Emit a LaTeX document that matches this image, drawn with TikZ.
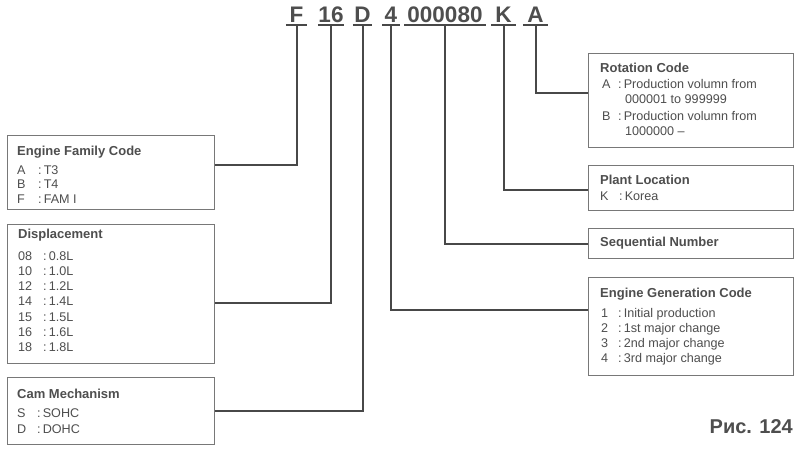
\documentclass[tikz,border=0pt]{standalone}
\usepackage{fontspec}
\setmainfont{Liberation Sans}
\definecolor{txt}{RGB}{78,78,78}
\definecolor{ln}{RGB}{72,72,72}
\definecolor{bx}{RGB}{120,120,120}
\begin{document}
\begin{tikzpicture}[x=1pt,y=-1pt,
  box/.style={draw=bx,line width=1.1pt,rectangle,anchor=north west,inner sep=0pt},
  conn/.style={draw=ln,line width=2pt},
  code/.style={anchor=base,inner sep=0pt,text=txt,font=\fontsize{22.5}{26}\bfseries\selectfont},
  ttl/.style={anchor=base west,inner sep=0pt,text=txt,font=\fontsize{13}{15}\bfseries\selectfont},
  t/.style={anchor=base west,inner sep=0pt,text=txt,font=\fontsize{12.6}{14}\selectfont}]
\useasboundingbox[fill=white] (0,0) rectangle (800,448);

% code characters
\node[code,minimum width=21pt] (cF) at (296.5,22) {F};
\node[code,minimum width=26pt] (c16) at (331,22) {16};
\node[code,minimum width=19pt] (cD) at (362.5,22) {D};
\node[code,minimum width=17pt] (c4) at (391,22) {4};
\node[code,minimum width=81pt] (cN) at (445,22) {000080};
\node[code,minimum width=24pt] (cK) at (503.5,22) {K};
\node[code,minimum width=25pt] (cA) at (535.5,22) {A};
\foreach \n in {cF,c16,cD,c4,cN,cK,cA}
  \draw[conn] ([yshift=-3pt]\n.base west) -- ([yshift=-3pt]\n.base east);

% boxes
\node[box,minimum width=207pt,minimum height=74pt] (fam) at (7,135) {};
\node[box,minimum width=207pt,minimum height=139pt] (disp) at (7,224) {};
\node[box,minimum width=207pt,minimum height=67pt] (cam) at (7,377) {};
\node[box,minimum width=205pt,minimum height=94pt] (rot) at (588,53) {};
\node[box,minimum width=205pt,minimum height=45pt] (plant) at (588,165) {};
\node[box,minimum width=205pt,minimum height=30pt] (seq) at (588,228) {};
\node[box,minimum width=205pt,minimum height=98pt] (gen) at (588,277) {};

% connectors
\draw[conn] ([yshift=-3pt]cF.base) |- (fam.east |- 0,165);
\draw[conn] ([yshift=-3pt]c16.base) |- (disp.east |- 0,303);
\draw[conn] ([yshift=-3pt]cD.base) |- (cam.east |- 0,411);
\draw[conn] ([yshift=-3pt]c4.base) |- (gen.west |- 0,310);
\draw[conn] ([yshift=-3pt]cN.base) |- (seq.west |- 0,244);
\draw[conn] ([yshift=-3pt]cK.base) |- (plant.west |- 0,190);
\draw[conn] ([yshift=-3pt]cA.base) |- (rot.west |- 0,93);

% Engine Family Code
\node[ttl] (famT) at (17,155) {Engine Family Code};
\node[t] (famA) at (17,174) {A}; \node[t] (famAc) at (38,174) {:\,T3};
\node[t] (famB) at (17,188.5) {B}; \node[t] (famBc) at (38,188.5) {:\,T4};
\node[t] (famF) at (17,203) {F}; \node[t] (famFc) at (38,203) {:\,FAM I};

% Displacement
\node[ttl] (dispT) at (18,238) {Displacement};
\foreach \k/\v [count=\i from 0] in {08/0.8L,10/1.0L,12/1.2L,14/1.4L,15/1.5L,16/1.6L,18/1.8L}{
  \node[t] (dk\i) at (18,260+15.3*\i) {\k};
  \node[t] (dv\i) at (43,260+15.3*\i) {:\,\v};
}

% Cam Mechanism
\node[ttl] (camT) at (17,398) {Cam Mechanism};
\node[t] (camS) at (17,417) {S}; \node[t] (camSc) at (37,417) {:\,SOHC};
\node[t] (camD) at (17,433) {D}; \node[t] (camDc) at (37,433) {:\,DOHC};

% Rotation Code
\node[ttl] (rotT) at (600,72) {Rotation Code};
\node[t] (rotA) at (602,88) {A}; \node[t] (rotAc) at (618,88) {:\,Production volumn from};
\node[t] (rotA2) at (625,103.5) {000001 to 999999};
\node[t] (rotB) at (602,120) {B}; \node[t] (rotBc) at (618,120) {:\,Production volumn from};
\node[t] (rotB2) at (625,135.5) {1000000 –};

% Plant Location
\node[ttl] (plT) at (600,184) {Plant Location};
\node[t] (plK) at (600,200) {K}; \node[t] (plKc) at (619,200) {:\,Korea};

% Sequential Number
\node[ttl] (seqT) at (600,246) {Sequential Number};

% Engine Generation Code
\node[ttl] (genT) at (600,297) {Engine Generation Code};
\node[t] (g1) at (601,317) {1}; \node[t] (g1c) at (618,317) {:\,Initial production};
\node[t] (g2) at (601,332) {2}; \node[t] (g2c) at (618,332) {:\,1st major change};
\node[t] (g3) at (601,347) {3}; \node[t] (g3c) at (618,347) {:\,2nd major change};
\node[t] (g4) at (601,362) {4}; \node[t] (g4c) at (618,362) {:\,3rd major change};

% figure label
\node[anchor=base east,inner sep=0pt,text=txt,font=\fontsize{20}{24}\bfseries\selectfont] (fig) at (793,433) {Рис. 124};
\end{tikzpicture}
\end{document}
